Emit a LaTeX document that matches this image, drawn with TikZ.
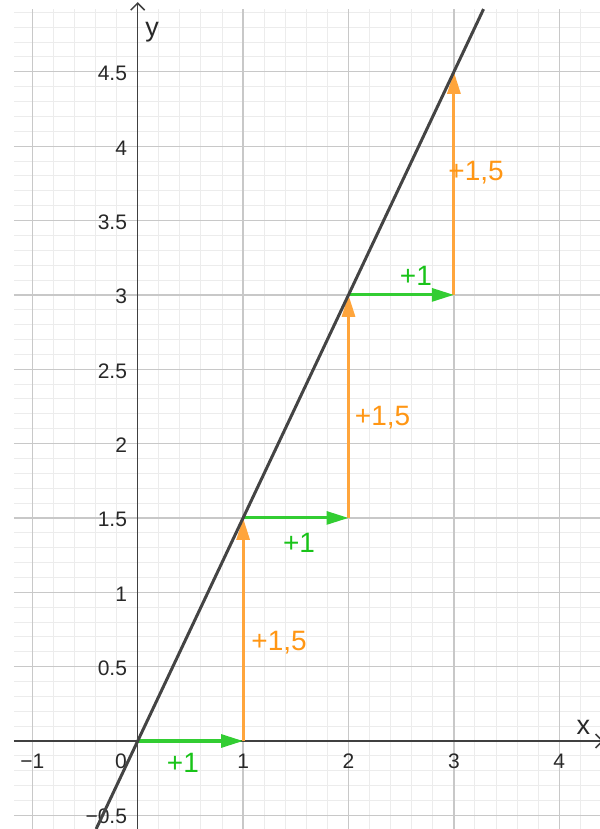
\documentclass[tikz,border=0pt]{standalone}
\usepackage{fontspec}
\setmainfont{Liberation Sans}
\usetikzlibrary{arrows.meta}
\definecolor{minorgrid}{RGB}{236,236,236}
\definecolor{majorgrid}{RGB}{200,200,200}
\definecolor{axiscol}{RGB}{64,64,64}
\definecolor{linecol}{RGB}{68,68,68}
\definecolor{greenarr}{RGB}{50,205,50}
\definecolor{greentxt}{RGB}{25,195,25}
\definecolor{orangearr}{RGB}{255,165,60}
\definecolor{orangetxt}{RGB}{255,150,20}
\definecolor{ticktxt}{RGB}{40,40,40}
\tikzset{
  minorline/.style={draw=minorgrid,line width=1bp},
  majorline/.style={draw=majorgrid,line width=1.3bp},
  axisline/.style={draw=axiscol,line width=1.5bp,-{Straight Barb[length=7bp,width=14bp]}},
  ticklabel/.style={text=ticktxt,font=\fontsize{21bp}{24bp}\selectfont,inner sep=0pt},
  axislabel/.style={text=ticktxt,font=\fontsize{27bp}{30bp}\selectfont,inner sep=0pt},
  greenvec/.style={draw=greenarr,line width=3bp,-{Triangle[length=22bp,width=13bp]}},
  orangevec/.style={draw=orangearr,line width=3bp,-{Triangle[length=22bp,width=13bp]}},
  greenlabel/.style={text=greentxt,font=\fontsize{28bp}{32bp}\selectfont,inner sep=0pt},
  orangelabel/.style={text=orangetxt,font=\fontsize{28bp}{32bp}\selectfont,inner sep=0pt},
  graphline/.style={draw=linecol,line width=3bp}
}
\begin{document}
\begin{tikzpicture}[x=105.4bp,y=148.7bp]
\useasboundingbox (-1.30645,-0.59180) rectangle (4.38615,4.98319);
\clip (-1.30645,-0.59180) rectangle (4.38615,4.98319);
% minor grid
\foreach \i in {-5,...,21} \draw[minorline] (\i/5,-0.6) -- (\i/5,4.922);
\foreach \j in {-5,...,49} \draw[minorline] (-1.174,\j/10) -- (4.4,\j/10);
% major grid
\foreach \i in {-1,...,4} \draw[majorline] (\i,-0.6) -- (\i,4.922);
\foreach \j in {-1,...,9} \draw[majorline] (-1.174,\j/2) -- (4.4,\j/2);
% axes
\coordinate (xstart) at (-1.174,0);
\coordinate (xend) at (4.42,0);
\coordinate (ystart) at (0,-0.6);
\coordinate (yend) at (0,4.969);
\draw[axisline] (xstart) -- (xend);
\draw[axisline] (ystart) -- (yend);
\node[axislabel] (xlab) at (4.229,0.094) {x};
\node[axislabel] (ylab) at (0.136,4.768) {y};
% tick labels
\foreach \v/\t in {4.5/4.5,4/4,3.5/3.5,3/3,2.5/2.5,2/2,1.5/1.5,1/1,0.5/0.5}
  \node[ticklabel,anchor=east] (yt\t) at (-0.1,\v-0.012) {\t};
\node[ticklabel,anchor=east] (ytm) at (-0.1,-0.509) {−0.5};
\foreach \u/\t in {-1/−1,1/1,2/2,3/3,4/4}
  \node[ticklabel] (xt\u) at (\u,-0.1345) {\t};
\node[ticklabel] (origin) at (-0.158,-0.1345) {0};
% step points
\coordinate (A0) at (0,0);
\coordinate (A1) at (1,0);
\coordinate (B1) at (1,1.5);
\coordinate (B2) at (2,1.5);
\coordinate (C2) at (2,3);
\coordinate (C3) at (3,3);
\coordinate (D3) at (3,4.5);
\draw[orangevec] (A1) -- (B1);
\draw[orangevec] (B2) -- (C2);
\draw[orangevec] (C3) -- (D3);
\draw[greenvec] (A0) -- (A1);
\draw[greenvec] (B1) -- (B2);
\draw[greenvec] (C2) -- (C3);
% graph line
\coordinate (L0) at (-0.3945,-0.5918);
\coordinate (L1) at (3.2813,4.922);
\draw[graphline] (L0) -- (L1);
% labels
\node[greenlabel] (g1) at (0.429,-0.148) {+1};
\node[greenlabel] (g2) at (1.530,1.332) {+1};
\node[greenlabel] (g3) at (2.640,3.127) {+1};
\node[orangelabel] (o1) at (1.341,0.659) {+1,5};
\node[orangelabel] (o2) at (2.323,2.172) {+1,5};
\node[orangelabel] (o3) at (3.210,3.820) {+1,5};
\end{tikzpicture}
\end{document}
